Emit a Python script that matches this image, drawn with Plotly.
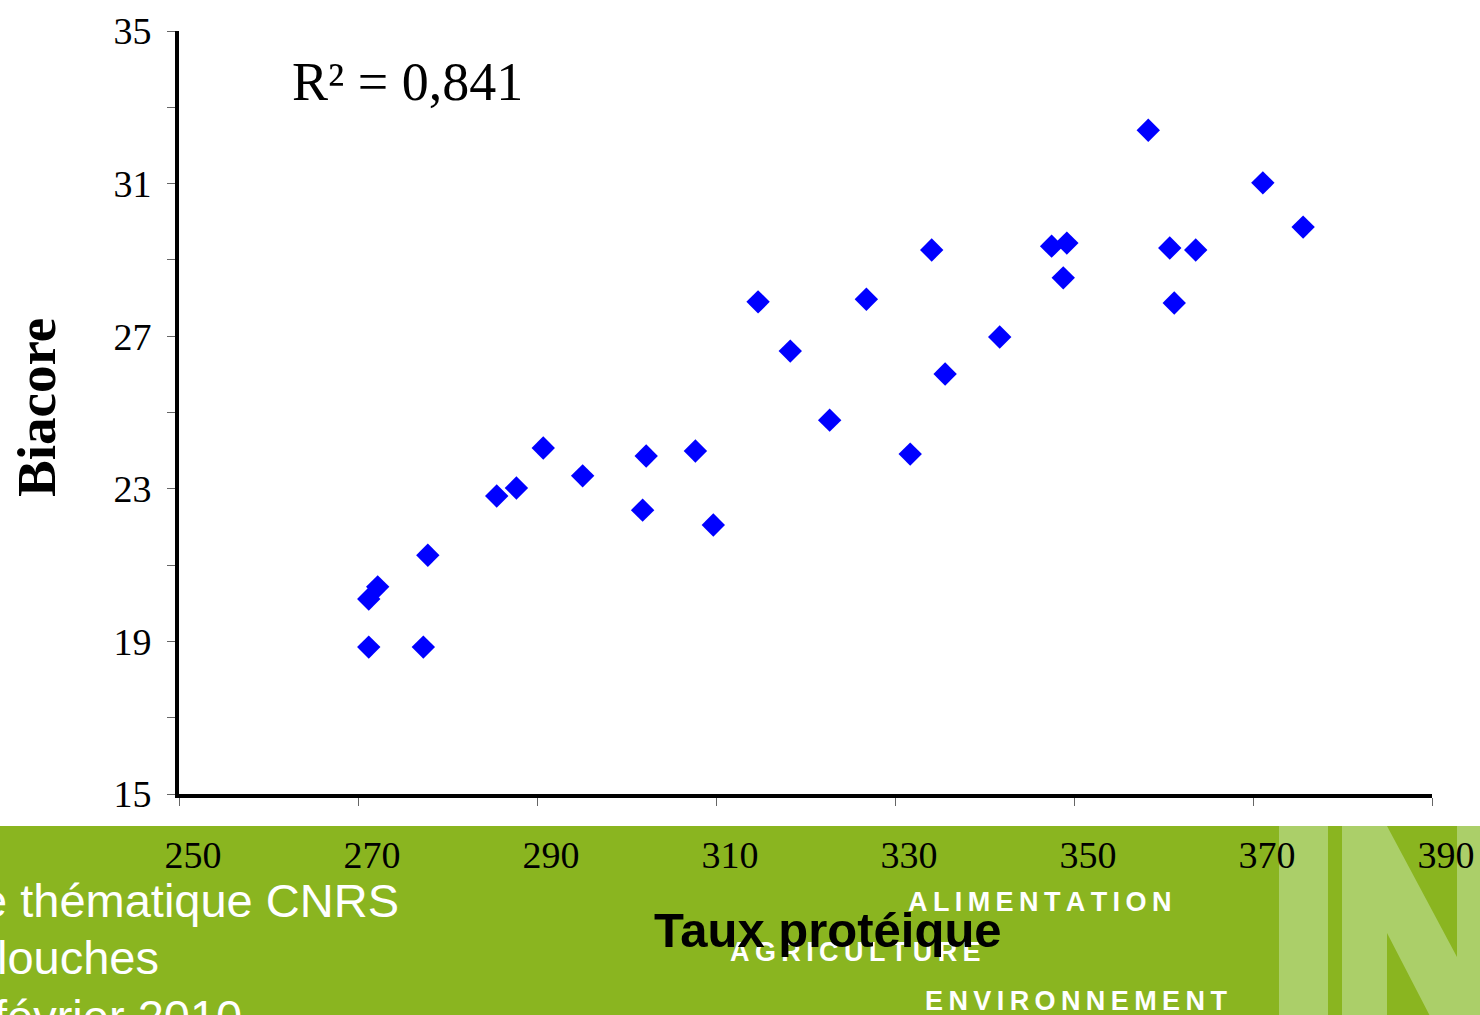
import plotly.graph_objects as go

# Data
taux_proteique = [271.2, 277.3, 271.2, 272.2, 277.8, 285.5, 287.7, 290.7, 295.1, 301.8,
                  302.2, 307.7, 309.7, 314.7, 318.3, 322.7, 326.8, 331.7, 334.1, 335.6,
                  341.7, 347.5, 349.2, 348.8, 358.3, 360.7, 361.2, 363.6, 371.1, 375.6]
biacore = [18.85, 18.85, 20.11, 20.43, 21.26, 22.81, 23.02, 24.07, 23.34, 22.44,
           23.86, 23.99, 22.05, 27.90, 26.61, 24.80, 27.97, 23.91, 29.26, 26.01,
           26.98, 29.36, 29.44, 28.53, 32.40, 29.31, 27.87, 29.26, 31.02, 29.86]
x_ticks = [250, 270, 290, 310, 330, 350, 370, 390]
y_ticks = [15, 19, 23, 27, 31, 35]
r2_text = "R² = 0,841"
footer_left = ["e thématique CNRS", "louches", "février 2010"]
footer_words = ["ALIMENTATION", "AGRICULTURE", "ENVIRONNEMENT"]

W, H = 1480, 1015
L, R, T, B = 179, 48, 31, 221
PW, PH = W - L - R, H - T - B


def px(xp):
    return (xp - L) / PW


def py(yp):
    return (H - B - yp) / PH


fig = go.Figure()
fig.add_trace(go.Scatter(
    x=taux_proteique, y=biacore, mode="markers",
    marker=dict(symbol="diamond", size=18, color="#0000FF", line=dict(width=0)),
    showlegend=False, hoverinfo="x+y"))

GREEN = "#8AB520"
LIGHT = "#ABCF69"
shapes = [
    dict(type="rect", xref="paper", yref="paper", x0=px(-5), x1=px(W + 5),
         y0=py(826), y1=py(H + 5), fillcolor=GREEN, line=dict(width=0), layer="below"),
    dict(type="rect", xref="paper", yref="paper", x0=px(1279), x1=px(1328),
         y0=py(826), y1=py(H + 5), fillcolor=LIGHT, line=dict(width=0), layer="below"),
]
pts = [(1342, 826), (1387, 826), (1457, 957), (1457, 826), (1485, 826), (1485, 1020),
       (1432, 1020), (1387, 933), (1387, 1020), (1342, 1020)]
path = "M " + " L ".join(f"{px(a):.5f},{py(b):.5f}" for a, b in pts) + " Z"
shapes.append(dict(type="path", xref="paper", yref="paper", path=path,
                   fillcolor=LIGHT, line=dict(width=0), layer="below"))

annotations = []
# footer left text (right edges as seen in the picture)
left_right_edges = [401, 161, 244]
for i, (t, xr) in enumerate(zip(footer_left, left_right_edges)):
    annotations.append(dict(text=t, xref="paper", yref="paper",
                            x=px(xr), y=py(900 + i * 58), xanchor="right", yanchor="middle",
                            showarrow=False,
                            font=dict(family="Liberation Sans, Arial", size=47, color="white")))
# footer words (spaced letters)
word_pos = [(1039, 902), (855, 952), (1076, 1001)]
for w, (cx, cy) in zip(footer_words, word_pos):
    annotations.append(dict(text="\u2009".join(w), xref="paper", yref="paper",
                            x=px(cx), y=py(cy), xanchor="center", yanchor="middle",
                            showarrow=False,
                            font=dict(family="Liberation Sans, Arial", size=27, color="white",
                                      weight="bold")))
# R² annotation
annotations.append(dict(text=r2_text, xref="paper", yref="paper", x=px(290), y=py(82),
                        xanchor="left", yanchor="middle", showarrow=False,
                        font=dict(family="Liberation Serif, Times New Roman, serif", size=54,
                                  color="black")))
# Axis titles
annotations.append(dict(text="<b>Biacore</b>", xref="paper", yref="paper", x=px(36),
                        y=py(408), xanchor="center", yanchor="middle", textangle=-90,
                        showarrow=False,
                        font=dict(family="Liberation Serif, Times New Roman, serif", size=55,
                                  color="black")))
annotations.append(dict(text="<b>Taux protéique</b>", xref="paper", yref="paper", x=px(828),
                        y=py(930), xanchor="center", yanchor="middle", showarrow=False,
                        font=dict(family="Liberation Sans, Arial", size=49, color="black")))

fig.update_layout(
    width=W, height=H,
    margin=dict(l=L, r=R, t=T, b=B, pad=0),
    paper_bgcolor="white", plot_bgcolor="white",
    shapes=shapes, annotations=annotations,
    xaxis=dict(range=[250, 390], tickvals=x_ticks, ticktext=[str(v) for v in x_ticks],
               automargin=False,
               showgrid=False, zeroline=False, showline=True, linecolor="black", linewidth=4,
               ticks="outside", ticklen=8, tickwidth=1, tickcolor="#666666",
               ticklabelshift=14, ticklabelstandoff=16,
               tickfont=dict(family="Liberation Serif, Times New Roman, serif", size=38,
                             color="black")),
    yaxis=dict(range=[15, 35], tickvals=y_ticks, ticktext=[str(v) for v in y_ticks],
               automargin=False,
               showgrid=False, zeroline=False, showline=True, linecolor="black", linewidth=4,
               ticks="outside", ticklen=8, tickwidth=1, tickcolor="#666666",
               minor=dict(tickvals=[17, 21, 25, 29, 33], ticks="outside", ticklen=8,
                          tickwidth=1, tickcolor="#666666", showgrid=False),
               ticklabelstandoff=8,
               tickfont=dict(family="Liberation Serif, Times New Roman, serif", size=38,
                             color="black")),
)

fig.write_html("out.html", config={"displayModeBar": False},
               post_script="document.body.style.margin='0';document.body.style.padding='0';"
                           "document.body.style.overflow='hidden';")
